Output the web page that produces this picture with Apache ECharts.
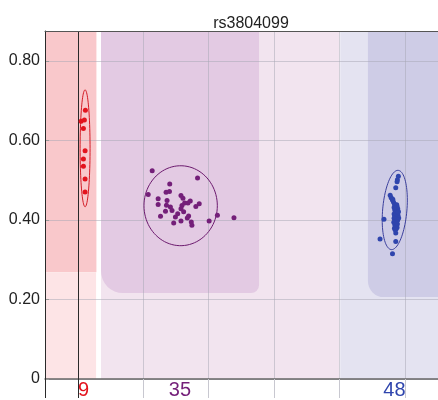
<!DOCTYPE html>
<html>
<head>
<meta charset="utf-8">
<script src="https://cdn.jsdelivr.net/npm/echarts@6/dist/echarts.min.js"></script>
<style>html,body{margin:0;padding:0;background:#fff}#c{width:438px;height:400px}</style>
</head>
<body>
<div id="c"></div>
<script>
// ---- data (theta, R) ----
const title = 'rs3804099';
const genotypes = ['AA', 'AB', 'BB'];
const counts = [9, 35, 48];
const clusterTheta = [0.018, 0.312, 0.967];
const gridTheta = [0, 0.2, 0.4, 0.6, 0.8, 1.0];
const yTicks = [0, 0.2, 0.4, 0.6, 0.8];

const aaPoints = [
  [0.0233, 0.676], [0.0103, 0.648], [0.0203, 0.651], [0.0173, 0.630], [0.0224, 0.574],
  [0.0173, 0.553], [0.0173, 0.535], [0.0224, 0.503], [0.0224, 0.470]
];
const abPoints = [
  [0.2273, 0.5237], [0.3658, 0.5055], [0.2809, 0.4905], [0.2697, 0.4698], [0.2800, 0.4713],
  [0.2152, 0.4638], [0.3152, 0.4613], [0.3212, 0.4544], [0.2455, 0.4531], [0.2727, 0.4489],
  [0.3436, 0.4474], [0.3364, 0.4424], [0.3264, 0.4424], [0.3709, 0.4406], [0.2455, 0.4389],
  [0.3182, 0.4364], [0.2709, 0.4369], [0.2830, 0.4324], [0.3606, 0.4339], [0.3152, 0.4282],
  [0.2879, 0.4239], [0.2679, 0.4219], [0.2527, 0.4090], [0.2982, 0.4075], [0.3385, 0.4100],
  [0.3345, 0.4045], [0.4264, 0.4115], [0.4012, 0.3975], [0.3467, 0.3950], [0.3152, 0.3975],
  [0.2930, 0.3925], [0.3485, 0.3865], [0.4770, 0.4057], [0.3233, 0.4207], [0.3052, 0.4157]
];
const bbPoints = [
  [0.979, 0.510], [0.976, 0.501], [0.975, 0.496], [0.971, 0.481], [0.954, 0.462],
  [0.957, 0.456], [0.961, 0.450], [0.964, 0.445], [0.967, 0.440], [0.969, 0.436],
  [0.975, 0.434], [0.971, 0.430], [0.977, 0.428], [0.968, 0.425], [0.973, 0.423],
  [0.979, 0.421], [0.970, 0.419], [0.975, 0.417], [0.966, 0.415], [0.972, 0.413],
  [0.978, 0.411], [0.968, 0.409], [0.974, 0.407], [0.980, 0.405], [0.966, 0.404],
  [0.971, 0.402], [0.977, 0.400], [0.969, 0.398], [0.974, 0.396], [0.965, 0.394],
  [0.971, 0.392], [0.976, 0.390], [0.968, 0.388], [0.973, 0.386], [0.970, 0.383],
  [0.975, 0.381], [0.967, 0.379], [0.972, 0.377], [0.969, 0.375], [0.971, 0.367],
  [0.935, 0.4015], [0.923, 0.352], [0.971, 0.346], [0.961, 0.315], [0.962, 0.452],
  [0.974, 0.438], [0.978, 0.419], [0.966, 0.431]
];

// cluster ellipses: [centerTheta, centerR, semiTheta, semiR, tiltDeg]
const aaEllipse = [0.0224, 0.580, 0.0152, 0.147, 0];
const abEllipse = [0.3142, 0.4357, 0.112, 0.1005, 0];
const bbEllipse = [0.968, 0.425, 0.037, 0.100, 5];

// call regions: [theta0, theta1, r0, r1]
const aaRegionUpper = [-0.1, 0.057, 0.2686, 0.875];
const aaRegionLower = [-0.1, 0.056, 0, 0.2686];
const abRegionOuter = [0.071, 0.7985, 0, 0.875];
const abRegionInner = [0.071, 0.5536, 0.216, 0.875];
const bbRegionOuter = [0.8015, 1.1, 0, 0.875];
const bbRegionInner = [0.886, 1.1, 0.206, 0.875];

const FONT = '"Liberation Sans", Arial, sans-serif';
const colors = { AA: '#e3141e', AB: '#741f79', BB: '#2f45ad' };
const ellipseColors = { AA: '#d31c26', AB: '#6c1a6e', BB: '#3a3f9c' };

function regionSeries(bounds, color, radius) {
  return {
    type: 'custom', z: 1, silent: true,
    data: [bounds],
    encode: { x: [0, 1], y: [2, 3] },
    renderItem: function (params, api) {
      const p0 = api.coord([api.value(0), api.value(3)]);
      const p1 = api.coord([api.value(1), api.value(2)]);
      return { type: 'rect', shape: { x: p0[0], y: p0[1], width: p1[0] - p0[0], height: p1[1] - p0[1], r: radius }, style: { fill: color } };
    }
  };
}
function ellipseSeries(e, color) {
  return {
    type: 'custom', z: 5, silent: true,
    data: [e],
    encode: { x: 0, y: 1 },
    renderItem: function (params, api) {
      const c = api.coord([api.value(0), api.value(1)]);
      const s = api.size([api.value(2), api.value(3)]);
      const rot = api.value(4) * Math.PI / 180;
      const pts = [];
      for (let i = 0; i <= 90; i++) {
        const t = i / 90 * Math.PI * 2;
        const ex = s[0] * Math.cos(t), ey = s[1] * Math.sin(t);
        pts.push([c[0] + ex * Math.cos(rot) - ey * Math.sin(rot), c[1] + ex * Math.sin(rot) + ey * Math.cos(rot)]);
      }
      return { type: 'polyline', shape: { points: pts }, style: { fill: null, stroke: color, lineWidth: 1 } };
    }
  };
}
function pointSeries(name, pts) {
  return { name: name, type: 'scatter', z: 6, data: pts, symbolSize: 5, itemStyle: { color: colors[name], opacity: 1 } };
}

const chart = echarts.init(document.getElementById('c'), null, { renderer: 'canvas' });
const gridLineStyle = { color: 'rgba(165,165,180,0.5)', width: 1 };
chart.setOption({
  animation: false,
  backgroundColor: '#fff',
  textStyle: { fontFamily: FONT },
  title: { text: title, left: 246, top: 11, textAlign: 'center', textStyle: { fontSize: 16, fontWeight: 'normal', color: '#222', fontFamily: FONT } },
  grid: { left: 45, top: 31, width: 396, height: 351, containLabel: false },
  xAxis: [
    {
      type: 'value', min: -0.1, max: 1.1, position: 'bottom', z: 3,
      axisLine: { show: true, onZero: false, lineStyle: { color: '#666', width: 1.5 } },
      axisTick: { show: true, customValues: gridTheta, length: 19, lineStyle: { color: '#c8c8d0' } },
      splitLine: { show: true, lineStyle: gridLineStyle },
      axisLabel: {
        show: true, customValues: clusterTheta, margin: 1,
        formatter: function (v) {
          let idx = 0, best = 1e9;
          clusterTheta.forEach(function (c, i) { if (Math.abs(c - v) < best) { best = Math.abs(c - v); idx = i; } });
          return '{' + genotypes[idx] + '|' + counts[idx] + '}';
        },
        rich: {
          AA: { color: colors.AA, fontSize: 20, fontFamily: FONT },
          AB: { color: colors.AB, fontSize: 20, fontFamily: FONT },
          BB: { color: colors.BB, fontSize: 20, fontFamily: FONT }
        }
      }
    },
    {
      type: 'value', min: -0.1, max: 1.1, position: 'bottom', z: 4,
      axisLine: { show: false, onZero: false },
      axisTick: { show: true, customValues: [-0.1, 0], length: 19, lineStyle: { color: '#2a2a2a' } },
      splitLine: { show: true, lineStyle: { color: '#2a2a2a', width: 1 } },
      axisLabel: { show: false }
    },
    {
      type: 'value', min: -0.1, max: 1.1, position: 'top', z: 4,
      axisLine: { show: true, onZero: false, lineStyle: { color: '#555', width: 1 } },
      axisTick: { show: false }, splitLine: { show: false }, axisLabel: { show: false }
    }
  ],
  yAxis: {
    type: 'value', min: 0, max: 0.875, interval: 0.2, z: 3,
    axisLine: { show: true, onZero: false, lineStyle: { color: '#333', width: 1 } },
    axisTick: { show: true, inside: true, length: 4, customValues: yTicks, lineStyle: { color: '#999' } },
    splitLine: { show: true, lineStyle: gridLineStyle },
    axisLabel: {
      customValues: yTicks, margin: 5, fontSize: 16, color: '#222', fontFamily: FONT,
      formatter: function (v) { return v === 0 ? '0' : v.toFixed(2); }
    }
  },
  series: [
    regionSeries(aaRegionUpper, '#f9c8cb', 0),
    regionSeries(aaRegionLower, '#fde4e6', 0),
    regionSeries(abRegionOuter, '#f2e4ef', 0),
    regionSeries(abRegionInner, '#e3cae3', [0, 0, 8, 22]),
    regionSeries(bbRegionOuter, '#e4e3f1', 0),
    regionSeries(bbRegionInner, '#cecce6', [0, 0, 0, 16]),
    ellipseSeries(aaEllipse, ellipseColors.AA),
    ellipseSeries(abEllipse, ellipseColors.AB),
    ellipseSeries(bbEllipse, ellipseColors.BB),
    pointSeries('AA', aaPoints),
    pointSeries('AB', abPoints),
    pointSeries('BB', bbPoints)
  ]
});
</script>
</body>
</html>
